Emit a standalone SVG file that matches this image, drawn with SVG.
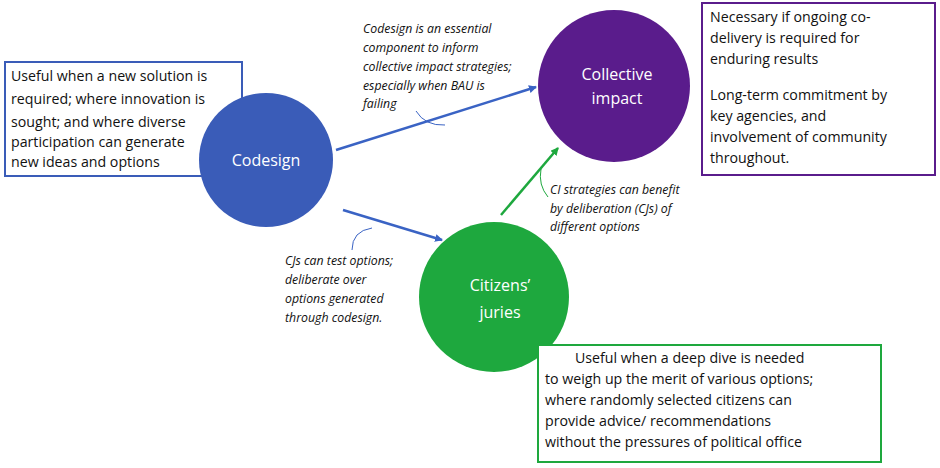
<svg xmlns="http://www.w3.org/2000/svg" width="940" height="468" viewBox="0 0 940 468">
<style>
.t{font-family:"Open Sans","Liberation Sans",sans-serif;font-size:14.2px;fill:#111}
.i{font-family:"Open Sans","Liberation Sans",sans-serif;font-size:12.3px;font-style:italic;fill:#111}
.c{font-family:"Open Sans","Liberation Sans",sans-serif;font-size:16px;fill:#fff;text-anchor:middle}
.box{fill:#fff;stroke-width:2}
</style>
<defs>
<marker id="mb" markerWidth="8" markerHeight="8" refX="7" refY="4" orient="auto" markerUnits="userSpaceOnUse"><path d="M0,0L8,4L0,8z" fill="#3a63c4"/></marker>
<marker id="mg" markerWidth="8" markerHeight="8" refX="7" refY="4" orient="auto" markerUnits="userSpaceOnUse"><path d="M0,0L8,4L0,8z" fill="#1ea83e"/></marker>
</defs>
<rect width="940" height="468" fill="#fff"/>
<g id="box-codesign"><rect class="box" x="5" y="62" width="237" height="114" stroke="#3a5cb8"/>
<text class="t" x="11" y="81">Useful when a new solution is</text><text class="t" x="11" y="104">required; where innovation is</text><text class="t" x="11" y="127">sought; and where diverse</text><text class="t" x="11" y="147">participation can generate</text><text class="t" x="11" y="167">new ideas and options</text></g>
<g id="connectors" fill="none" stroke-width="2.5">
<line x1="336" y1="150" x2="536" y2="87" stroke="#3a63c4" marker-end="url(#mb)"/>
<line x1="343" y1="210" x2="442" y2="240" stroke="#3a63c4" marker-end="url(#mb)"/>
<line x1="501" y1="215" x2="558" y2="148" stroke="#1ea83e" marker-end="url(#mg)"/>
<path d="M416,111 Q425,126 445,125" stroke="#3a63c4" stroke-width="1"/>
<path d="M352,250 Q352,231 372,228" stroke="#3a63c4" stroke-width="1"/>
<path d="M548,197 Q538,185 541,169" stroke="#1ea83e" stroke-width="1"/>
</g>
<g id="codesign"><circle cx="266" cy="160" r="67" fill="#3a5cb8"/><text class="c" x="266" y="166">Codesign</text></g>
<g id="collective"><circle cx="614" cy="86" r="76" fill="#5a1c8c"/><text class="c" x="617" y="80">Collective</text><text class="c" x="617" y="104">impact</text></g>
<g id="juries"><circle cx="494" cy="297" r="75" fill="#1ea83e"/><text class="c" x="500" y="291">Citizens’</text><text class="c" x="500" y="318">juries</text></g>
<g id="box-ci"><rect class="box" x="702" y="3" width="233" height="172" stroke="#5a1c8c"/>
<text class="t" x="710" y="22">Necessary if ongoing co-</text><text class="t" x="710" y="43">delivery is required  for</text><text class="t" x="710" y="64">enduring results</text><text class="t" x="710" y="100">Long-term commitment by</text><text class="t" x="710" y="121">key agencies, and</text><text class="t" x="710" y="142">involvement of community</text><text class="t" x="710" y="163">throughout.</text></g>
<g id="box-cj"><rect class="box" x="538" y="345" width="343" height="117" stroke="#1ea83e"/>
<text class="t" x="575" y="363">Useful when a deep dive is needed</text><text class="t" x="545" y="384">to weigh up the merit of various options;</text><text class="t" x="545" y="405">where randomly selected citizens can</text><text class="t" x="545" y="426">provide advice/ recommendations</text><text class="t" x="545" y="447">without the pressures of political office</text></g>
<g id="labels">
<text class="i" x="363" y="33">Codesign  is an essential</text><text class="i" x="363" y="52">component to inform</text><text class="i" x="363" y="71">collective impact strategies;</text><text class="i" x="363" y="90">especially when BAU is</text><text class="i" x="363" y="108">failing</text>
<text class="i" x="285" y="265">CJs  can test options;</text><text class="i" x="285" y="284">deliberate over</text><text class="i" x="285" y="303">options generated</text><text class="i" x="285" y="322">through codesign.</text>
<text class="i" x="550" y="194">CI strategies can benefit</text><text class="i" x="550" y="213">by deliberation (CJs) of</text><text class="i" x="550" y="231">different options</text>
</g>
</svg>
